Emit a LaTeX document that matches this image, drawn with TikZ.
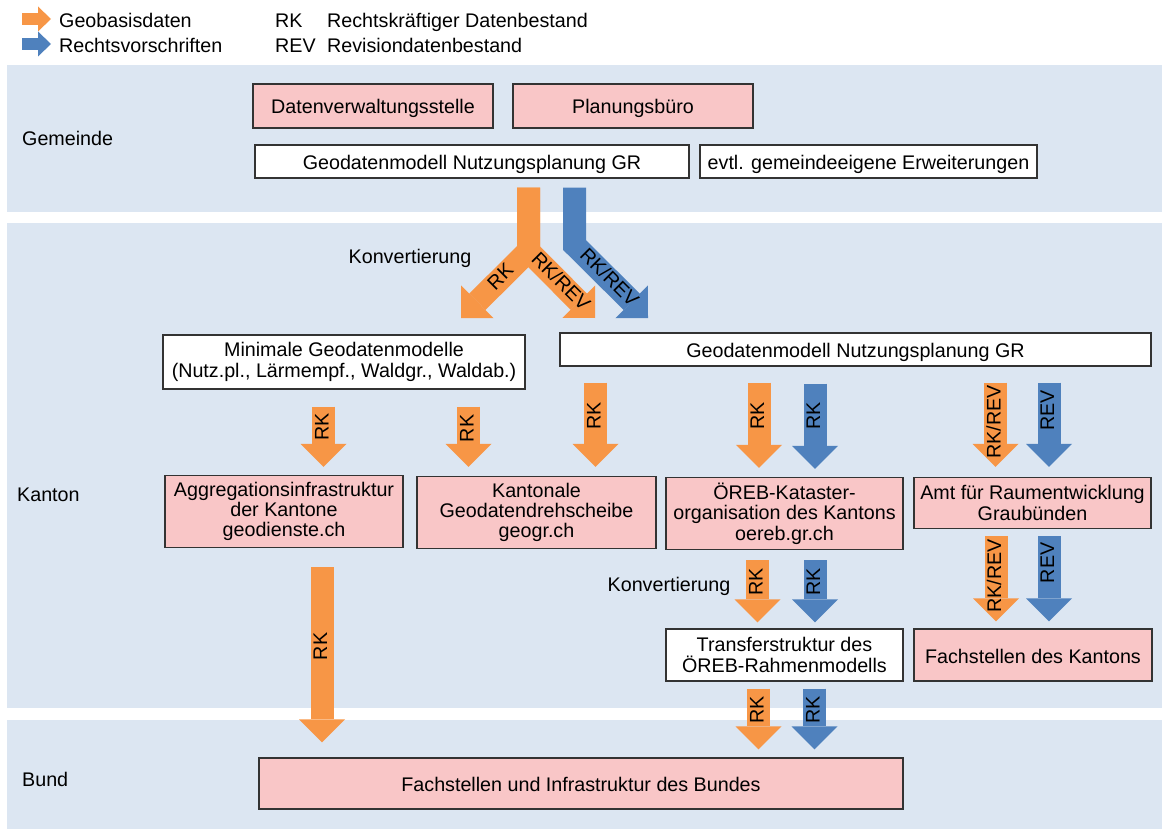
\documentclass[tikz,border=0pt]{standalone}
\usepackage{fontspec}
\setmainfont{Liberation Sans}
\usepackage{tikz}
\usetikzlibrary{arrows.meta}
\definecolor{geo}{RGB}{247,150,70}
\definecolor{rv}{RGB}{79,129,189}
\definecolor{band}{RGB}{220,230,242}
\definecolor{rosa}{RGB}{249,198,199}
\tikzstyle{lab}=[inner sep=0pt,text height=17pt,text depth=1pt]
\tikzstyle{alab}=[inner sep=0pt,text height=14pt,text depth=4pt]
\tikzstyle{box}=[draw=black!80,line width=1.2pt,fill=white,inner sep=2pt,align=center]
\tikzstyle{sbox}=[box,text height=17pt,text depth=1pt]
\tikzstyle{geoarrow}=[draw=geo,line width=23pt,-{Triangle[length=23pt,width=46pt,line width=0pt]}]
\tikzstyle{rvarrow}=[geoarrow,draw=rv]
\tikzstyle{legeo}=[draw=geo,line width=12.5pt,-{Triangle[length=13pt,width=25pt,line width=0pt]}]
\tikzstyle{legrv}=[legeo,draw=rv]

\begin{document}
\begin{tikzpicture}[x=1pt,y=-1pt,font=\fontsize{19.7}{20.3}\selectfont]
          \useasboundingbox (0,0) rectangle (1162,829);
          \fill[band] (7,65) rectangle (1162,212);
          \fill[band] (7,223) rectangle (1162,708);
          \fill[band] (7,720) rectangle (1162,829);
          \draw[legeo] (22,19) -- (51,19);
          \draw[legrv] (22,44) -- (51,44);
          \node[lab,anchor=west] (lg) at (59,20) {Geobasisdaten};
          \node[lab,anchor=west] (lr) at (59,45) {Rechtsvorschriften};
          \node[lab,anchor=west] (lk) at (275,20) {RK};
          \node[lab,anchor=west] (lkt) at (327,20) {Rechtskräftiger Datenbestand};
          \node[lab,anchor=west] (lv) at (275,45) {REV};
          \node[lab,anchor=west] (lvt) at (327,45) {Revisiondatenbestand};
          \node[lab,anchor=west] (ge) at (22,138) {Gemeinde};
          \node[lab,anchor=west] (ka) at (17,493) {Kanton};
          \node[lab,anchor=west] (bu) at (22,778) {Bund};
          \node[sbox,fill=rosa,minimum width=240pt,minimum height=44pt] (dv) at (373,106) {Datenverwaltungsstelle};
          \node[sbox,fill=rosa,minimum width=240pt,minimum height=44pt] (pb) at (633,106) {Planungsbüro};
          \node[sbox,minimum width=434pt,minimum height=33pt] (gm) at (472,161.5) {Geodatenmodell Nutzungsplanung GR};
          \node[sbox,minimum width=337pt,minimum height=33pt] (ev) at (868.5,161.5) {evtl. gemeindeeigene Erweiterungen};
          \node[box,minimum width=362pt,minimum height=54pt] (mg) at (344,362) {Minimale Geodatenmodelle\\(Nutz.pl., Lärmempf., Waldgr., Waldab.)};
          \node[sbox,minimum width=591pt,minimum height=33pt] (gk) at (855.5,349.5) {Geodatenmodell Nutzungsplanung GR};
          \node[box,fill=rosa,minimum width=238pt,minimum height=72pt] (ag) at (284,511.5) {Aggregationsinfrastruktur\\der Kantone\\geodienste.ch};
          \node[box,fill=rosa,minimum width=239pt,minimum height=72pt] (kg) at (536.5,512.5) {Kantonale\\Geodatendrehscheibe\\geogr.ch};
          \node[box,fill=rosa,minimum width=237pt,minimum height=72pt] (oe) at (784.5,513.5) {ÖREB-Kataster-\\organisation des Kantons\\oereb.gr.ch};
          \node[box,fill=rosa,minimum width=237pt,minimum height=51pt] (ar) at (1032.5,503) {Amt für Raumentwicklung\\Graubünden};
          \node[box,minimum width=237pt,minimum height=52pt] (tr) at (784.5,655) {Transferstruktur des\\ÖREB-Rahmenmodells};
          \node[sbox,fill=rosa,minimum width=238pt,minimum height=52pt] (fk) at (1033,655) {Fachstellen des Kantons};
          \node[sbox,fill=rosa,minimum width=644pt,minimum height=51pt] (fb) at (581,783.5) {Fachstellen und Infrastruktur des Bundes};
          \node[lab] (k1) at (410,255) {Konvertierung};
          \node[lab] (k2) at (669,583) {Konvertierung};
          \coordinate (yl) at (461,318);
          \coordinate (yr) at (595,318);
          \coordinate (yb) at (648,318);
          \draw[geoarrow,shorten <=9pt] (528.5,0 |- gm.south) -- (528.5,251) -- (yl) node[alab,pos=0.4,rotate=45] {RK};
          \draw[geoarrow,shorten <=9pt] (528.5,0 |- gm.south) -- (528.5,251) -- (yr) node[alab,pos=0.47,rotate=-45] {RK/REV};
          \draw[rvarrow,shorten <=9pt] (574.5,0 |- gm.south) -- (574.5,245) -- (yb) node[alab,pos=0.46,rotate=-45] {RK/REV};
          \draw[geoarrow,shorten <=17pt,shorten >=8pt] (323.5,0 |- mg.south) -- (323.5,0 |- ag.north) node[alab,pos=0.44,rotate=90] {RK};
          \draw[geoarrow,shorten <=17pt,shorten >=9pt] (468.5,0 |- mg.south) -- (468.5,0 |- kg.north) node[alab,pos=0.45,rotate=90] {RK};
          \draw[geoarrow,shorten <=16pt,shorten >=9pt] (595.5,0 |- gk.south) -- (595.5,0 |- kg.north) node[alab,pos=0.45,rotate=90] {RK};
          \draw[geoarrow,shorten <=16pt,shorten >=9pt] (759,0 |- gk.south) -- (759,0 |- oe.north) node[alab,pos=0.45,rotate=90] {RK};
          \draw[rvarrow,shorten <=17pt,shorten >=8pt] (815,0 |- gk.south) -- (815,0 |- oe.north) node[alab,pos=0.45,rotate=90] {RK};
          \draw[geoarrow,shorten <=16pt,shorten >=10pt] (995.5,0 |- gk.south) -- (995.5,0 |- ar.north) node[alab,pos=0.5,rotate=90] {RK/REV};
          \draw[rvarrow,shorten <=16pt,shorten >=10pt] (1049,0 |- gk.south) -- (1049,0 |- ar.north) node[alab,pos=0.4,rotate=90] {REV};
          \draw[geoarrow,shorten <=7pt,shorten >=7pt] (996,0 |- ar.south) -- (996,0 |- fk.north) node[alab,pos=0.47,rotate=90] {RK/REV};
          \draw[rvarrow,shorten <=7pt,shorten >=7pt] (1049,0 |- ar.south) -- (1049,0 |- fk.north) node[alab,pos=0.34,rotate=90] {REV};
          \draw[geoarrow,shorten <=10pt,shorten >=6pt] (757.5,0 |- oe.south) -- (757.5,0 |- tr.north) node[alab,pos=0.41,rotate=90] {RK};
          \draw[rvarrow,shorten <=10pt,shorten >=6pt] (815,0 |- oe.south) -- (815,0 |- tr.north) node[alab,pos=0.41,rotate=90] {RK};
          \draw[geoarrow,shorten <=7pt,shorten >=8pt] (758.5,0 |- tr.south) -- (758.5,0 |- fb.north) node[alab,pos=0.37,rotate=90] {RK};
          \draw[rvarrow,shorten <=7pt,shorten >=8pt] (814.5,0 |- tr.south) -- (814.5,0 |- fb.north) node[alab,pos=0.37,rotate=90] {RK};
          \draw[geoarrow,shorten <=19pt,shorten >=15pt] (322,0 |- ag.south) -- (322,0 |- fb.north) node[alab,pos=0.47,rotate=90] {RK};
        \end{tikzpicture}
\end{document}
